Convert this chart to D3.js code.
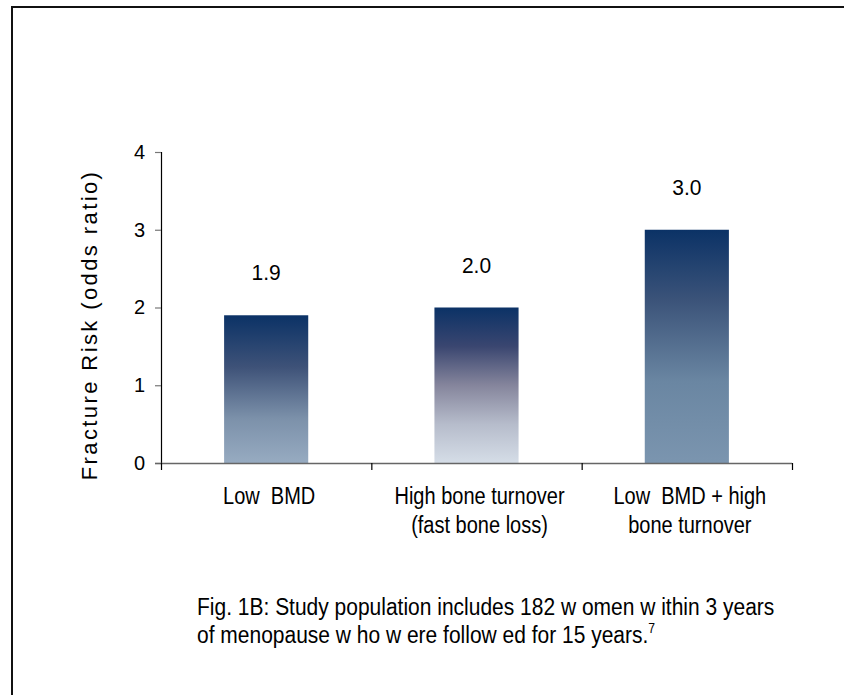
<!DOCTYPE html>
<html><head><meta charset="utf-8">
<script src="https://cdn.jsdelivr.net/npm/d3@7"></script>
<style>
html,body{margin:0;padding:0;background:#fff;}
svg{display:block;}
text{font-family:"Liberation Sans",Arial,sans-serif;fill:#000;}
</style></head>
<body>
<script>
const categories = ["Low BMD", "High bone turnover (fast bone loss)", "Low BMD + high bone turnover"];
const categoryLines = [["Low  BMD"], ["High bone turnover", "(fast bone loss)"], ["Low  BMD + high", "bone turnover"]];
const values = [1.9, 2.0, 3.0];
const valueLabels = ["1.9", "2.0", "3.0"];
const yTicks = [0, 1, 2, 3, 4];
const yTitle = "Fracture Risk (odds ratio)";
const captionLines = ["Fig. 1B: Study population includes 182 w omen w ithin 3 years", "of menopause w ho w ere follow ed for 15 years."];
const captionSup = "7";
const gradients = [
  [["0%", "#0b3266"], ["35%", "#3e5278"], ["70%", "#7c91aa"], ["100%", "#97abc1"]],
  [["0%", "#0b3266"], ["25%", "#3a4670"], ["50%", "#85859c"], ["75%", "#b6bccb"], ["100%", "#d5dde7"]],
  [["0%", "#0b3266"], ["30%", "#3b5379"], ["65%", "#6a86a2"], ["100%", "#7b95af"]]
];

const W = 844, H = 695;
const svg = d3.select("body").append("svg").attr("width", W).attr("height", H);

// frame
svg.append("rect").attr("x", 12).attr("y", 7).attr("width", 900).attr("height", 800)
  .attr("fill", "none").attr("stroke", "#111").attr("stroke-width", 2);

const y = d3.scaleLinear().domain([0, 4]).range([463, 152]);
const x = d3.scaleBand().domain(categories).range([161, 792]).padding(0);
const bw = x.bandwidth() * 0.4;
const STRETCH = 1.15;

// text helper: condensed-looking text (tall glyphs)
function stext(parent, tx, ty, size, anchor, k) {
  return parent.append("text")
    .attr("transform", `translate(${tx},${ty}) scale(${1 / k},1)`)
    .attr("font-size", size * k).attr("text-anchor", anchor)
    .style("white-space", "pre");
}

const defs = svg.append("defs");
gradients.forEach((g, i) => {
  const lg = defs.append("linearGradient").attr("id", "g" + i)
    .attr("x1", 0).attr("y1", 0).attr("x2", 0).attr("y2", 1);
  g.forEach(([o, c]) => lg.append("stop").attr("offset", o).attr("stop-color", c));
});

// bars
svg.selectAll("rect.bar").data(values).join("rect").attr("class", "bar")
  .attr("x", (d, i) => x(categories[i]) + (x.bandwidth() - bw) / 2)
  .attr("width", bw)
  .attr("y", d => y(d))
  .attr("height", d => y(0) - y(d))
  .attr("fill", (d, i) => `url(#g${i})`);

// value labels
values.forEach((v, i) => {
  stext(svg, x(categories[i]) + x.bandwidth() / 2, y(v) - 35, 21, "middle", 1.08).text(valueLabels[i]);
});

// y axis
const yAxis = svg.append("g").attr("transform", "translate(161,0)")
  .call(d3.axisLeft(y).tickValues(yTicks).tickFormat(d3.format("d")).tickSize(6).tickPadding(10));
yAxis.select(".domain").attr("stroke", "#000").attr("stroke-width", 1.2).attr("d", "M0.5,152V463");
yAxis.selectAll(".tick line").attr("stroke", "#777").attr("stroke-width", 1.2);
yAxis.selectAll(".tick text").attr("font-size", 20).attr("font-family", "Liberation Sans, Arial, sans-serif").attr("fill", "#000");

// x axis
const xAxis = svg.append("g").attr("transform", "translate(0,463)");
xAxis.append("line").attr("x1", 155).attr("x2", 792).attr("y1", 0.5).attr("y2", 0.5)
  .attr("stroke", "#666").attr("stroke-width", 1.5);
const bounds = categories.map(c => x(c)).concat([x.range()[1]]);
xAxis.selectAll("line.tk").data(bounds).join("line").attr("class", "tk")
  .attr("x1", d => d + 0.5).attr("x2", d => d + 0.5).attr("y1", 0).attr("y2", 7)
  .attr("stroke", "#000").attr("stroke-width", 1.2);

// category labels
categoryLines.forEach((lines, i) => {
  lines.forEach((l, j) => {
    stext(svg, x(categories[i]) + x.bandwidth() / 2 + 3, 504 + j * 29, 20, "middle", STRETCH).text(l);
  });
});

// y title
svg.append("text").attr("transform", "translate(97,325) rotate(-90)")
  .attr("text-anchor", "middle").attr("font-size", 22).attr("letter-spacing", 2.4)
  .text(yTitle);

// caption
stext(svg, 197, 615, 21, "start", STRETCH).text(captionLines[0]);
const c2 = stext(svg, 197, 643, 21, "start", STRETCH);
c2.append("tspan").text(captionLines[1]);
c2.append("tspan").attr("font-size", 14).attr("dy", -10).text(captionSup);
</script>
</body></html>
